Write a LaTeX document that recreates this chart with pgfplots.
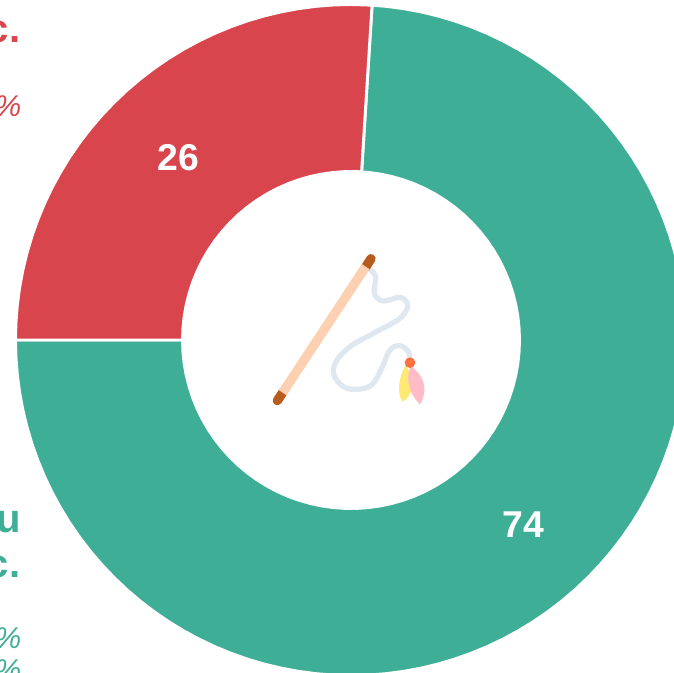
\documentclass[border=0pt]{standalone}
\usepackage{pgfplots}
\usepackage{fontspec}
\setmainfont{Liberation Sans}
\usepgfplotslibrary{polar}
\pgfplotsset{compat=1.18}
\definecolor{teal1}{HTML}{3EAE96}
\definecolor{red1}{HTML}{D8454C}
\definecolor{peach}{HTML}{FDD0B1}
\definecolor{brownt}{HTML}{B85C1E}
\definecolor{rope}{HTML}{DFE8F1}
\definecolor{feathy}{HTML}{FFE873}
\definecolor{feathp}{HTML}{FFBBC6}
\definecolor{dot}{HTML}{FF7043}
\begin{document}
\begin{tikzpicture}
\useasboundingbox (0pt,0pt) rectangle (505.5pt,-504.75pt);
\clip (0pt,0pt) rectangle (505.5pt,-504.75pt);
\begin{polaraxis}[
  at={(263.25pt,-255pt)}, anchor=center,
  scale only axis, width=502.5pt, height=502.5pt,
  xmin=0, xmax=360, ymin=0, ymax=335,
  axis lines=none, ticks=none, grid=none, clip=false,
]
% share of 74: teal ring (angle, radius)
\addplot[fill=teal1, draw=white, line width=2.2pt, mark=none] coordinates {
(180,335.5)(183,335.5)(186,335.5)(189,335.5)(192,335.5)(195,335.5)(198,335.5)(201,335.5)(204,335.5)(207,335.5)
(210,335.5)(213,335.5)(216,335.5)(219,335.5)(222,335.5)(225,335.5)(228,335.5)(231,335.5)(234,335.5)(237,335.5)
(240,335.5)(243,335.5)(246,335.5)(249,335.5)(252,335.5)(255,335.5)(258,335.5)(261,335.5)(264,335.5)(267,335.5)
(270,335.5)(273,335.5)(276,335.5)(279,335.5)(282,335.5)(285,335.5)(288,335.5)(291,335.5)(294,335.5)(297,335.5)
(300,335.5)(303,335.5)(306,335.5)(309,335.5)(312,335.5)(315,335.5)(318,335.5)(321,335.5)(324,335.5)(327,335.5)
(330,335.5)(333,335.5)(336,335.5)(339,335.5)(342,335.5)(345,335.5)(348,335.5)(351,335.5)(354,335.5)(357,335.5)
(360,335.5)(363,335.5)(366,335.5)(369,335.5)(372,335.5)(375,335.5)(378,335.5)(381,335.5)(384,335.5)(387,335.5)
(390,335.5)(393,335.5)(396,335.5)(399,335.5)(402,335.5)(405,335.5)(408,335.5)(411,335.5)(414,335.5)(417,335.5)
(420,335.5)(423,335.5)(426,335.5)(429,335.5)(432,335.5)(435,335.5)(438,335.5)(441,335.5)(444,335.5)(446.4,335.5)
(446.4,168.5)(444,168.5)(440,168.5)(436,168.5)(432,168.5)(428,168.5)(424,168.5)(420,168.5)(416,168.5)(412,168.5)
(408,168.5)(404,168.5)(400,168.5)(396,168.5)(392,168.5)(388,168.5)(384,168.5)(380,168.5)(376,168.5)(372,168.5)
(368,168.5)(364,168.5)(360,168.5)(356,168.5)(352,168.5)(348,168.5)(344,168.5)(340,168.5)(336,168.5)(332,168.5)
(328,168.5)(324,168.5)(320,168.5)(316,168.5)(312,168.5)(308,168.5)(304,168.5)(300,168.5)(296,168.5)(292,168.5)
(288,168.5)(284,168.5)(280,168.5)(276,168.5)(272,168.5)(268,168.5)(264,168.5)(260,168.5)(256,168.5)(252,168.5)
(248,168.5)(244,168.5)(240,168.5)(236,168.5)(232,168.5)(228,168.5)(224,168.5)(220,168.5)(216,168.5)(212,168.5)
(208,168.5)(204,168.5)(200,168.5)(196,168.5)(192,168.5)(188,168.5)(184,168.5)(180,168.5)
} --cycle;
% share of 26: red ring
\addplot[fill=red1, draw=white, line width=2.2pt, mark=none] coordinates {
(86.4,335.5)(90,335.5)(93,335.5)(96,335.5)(99,335.5)(102,335.5)(105,335.5)(108,335.5)(111,335.5)(114,335.5)
(117,335.5)(120,335.5)(123,335.5)(126,335.5)(129,335.5)(132,335.5)(135,335.5)(138,335.5)(141,335.5)(144,335.5)
(147,335.5)(150,335.5)(153,335.5)(156,335.5)(159,335.5)(162,335.5)(165,335.5)(168,335.5)(171,335.5)(174,335.5)
(177,335.5)(180,335.5)
(180,168.5)(176,168.5)(172,168.5)(168,168.5)(164,168.5)(160,168.5)(156,168.5)(152,168.5)(148,168.5)(144,168.5)
(140,168.5)(136,168.5)(132,168.5)(128,168.5)(124,168.5)(120,168.5)(116,168.5)(112,168.5)(108,168.5)(104,168.5)
(100,168.5)(96,168.5)(92,168.5)(88,168.5)(86.4,168.5)
} --cycle;
\node[text=white, yshift=-1pt, font=\bfseries\fontsize{28pt}{32pt}\selectfont] at (axis cs:133.2,252) {26};
\node[text=white, yshift=-0.5pt, font=\bfseries\fontsize{28pt}{32pt}\selectfont] at (axis cs:-46.8,252) {74};
\end{polaraxis}
\begin{scope}[x=0.75pt,y=-0.75pt]
% clipped legend text
\node[anchor=base east, text=red1, inner sep=0, font=\bfseries\fontsize{30pt}{36pt}\selectfont] at (20.5,43) {c.};
\node[anchor=base east, text=red1, inner sep=0, font=\itshape\fontsize{22.5pt}{27pt}\selectfont] at (21.5,117) {\%};
\node[anchor=base east, text=teal1, inner sep=0, font=\bfseries\fontsize{30pt}{36pt}\selectfont] at (21.5,532) {u};
\node[anchor=base east, text=teal1, inner sep=0, font=\bfseries\fontsize{30pt}{36pt}\selectfont] at (20.5,577) {c.};
\node[anchor=base east, text=teal1, inner sep=0, font=\itshape\fontsize{22.5pt}{27pt}\selectfont] at (21.5,648) {\%};
\node[anchor=base east, text=teal1, inner sep=0, font=\itshape\fontsize{22.5pt}{27pt}\selectfont] at (21.5,680) {\%};
% toy icon
\begin{scope}[shift={(260,240)}, x=0.25pt, y=-0.25pt]
\draw[rope, line width=4pt, line cap=round, line join=round] plot[smooth, tension=0.6] coordinates {
(325,85)(347,110)(343,160)(370,183)(420,172)(443,195)(420,235)(340,280)(270,320)(228,365)(222,405)(250,440)(290,448)(335,435)(365,385)(390,330)(420,317)(445,335)(450,365)};
\draw[brownt, line width=7pt, line cap=round] (333,56) -- (316,83);
\draw[brownt, line width=7pt, line cap=round] (52,482) -- (70,455);
\draw[peach, line width=7pt, line cap=butt] (317,80) -- (68,458);
\fill[feathy] (437,375) .. controls (412,420) and (412,465) .. (428,485) .. controls (455,470) and (470,430) .. (437,375) -- cycle;
\fill[feathp] (452,378) .. controls (435,420) and (450,465) .. (480,493) .. controls (505,450) and (495,410) .. (452,378) -- cycle;
\fill[dot] (450,368) circle (16);
\end{scope}
\end{scope}
\end{tikzpicture}
\end{document}
